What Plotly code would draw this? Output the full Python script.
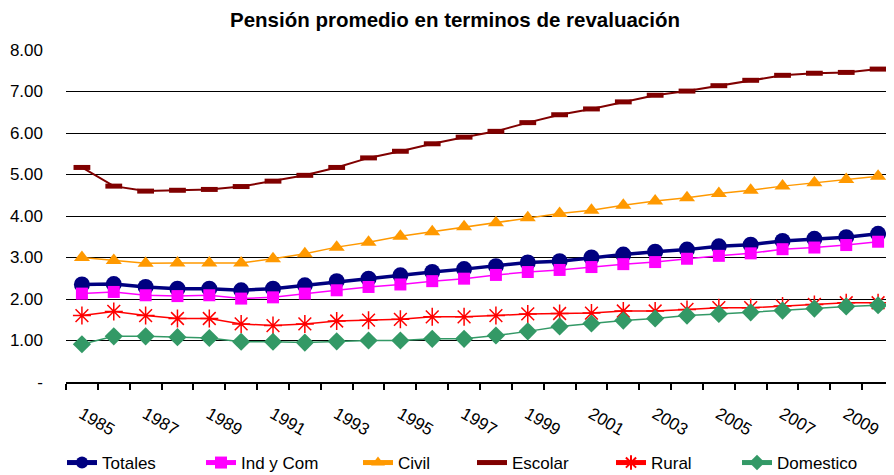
import plotly.graph_objects as go

# Datos (1985-2010)
years = list(range(1985, 2011))

totales = [2.35, 2.36, 2.29, 2.25, 2.25, 2.21, 2.25, 2.33, 2.43, 2.49, 2.57, 2.65, 2.72,
           2.79, 2.88, 2.91, 3.00, 3.07, 3.14, 3.19, 3.27, 3.31, 3.40, 3.45, 3.49, 3.57]
ind_com = [2.13, 2.17, 2.09, 2.07, 2.09, 2.01, 2.04, 2.13, 2.21, 2.29, 2.35, 2.43, 2.49,
           2.58, 2.65, 2.70, 2.77, 2.84, 2.89, 2.97, 3.04, 3.10, 3.20, 3.24, 3.30, 3.38]
civil = [3.00, 2.93, 2.86, 2.87, 2.87, 2.87, 2.97, 3.09, 3.25, 3.37, 3.51, 3.62, 3.74,
         3.84, 3.96, 4.06, 4.14, 4.26, 4.36, 4.44, 4.54, 4.62, 4.72, 4.80, 4.88, 4.96]
escolar = [5.17, 4.72, 4.60, 4.62, 4.64, 4.71, 4.84, 4.98, 5.17, 5.40, 5.56, 5.74, 5.90,
           6.04, 6.25, 6.44, 6.58, 6.75, 6.91, 7.01, 7.14, 7.27, 7.39, 7.44, 7.46, 7.54]
rural = [1.60, 1.70, 1.60, 1.53, 1.53, 1.40, 1.36, 1.40, 1.47, 1.49, 1.51, 1.57, 1.57,
         1.60, 1.64, 1.65, 1.66, 1.71, 1.71, 1.75, 1.79, 1.79, 1.83, 1.87, 1.91, 1.91]
domestico = [0.91, 1.10, 1.10, 1.08, 1.06, 0.97, 0.97, 0.95, 0.98, 1.00, 1.00, 1.04, 1.04,
             1.12, 1.22, 1.34, 1.41, 1.48, 1.53, 1.60, 1.64, 1.68, 1.72, 1.77, 1.82, 1.85]

x_tickvals = list(range(1985, 2010, 2))
x_ticktext = [str(y) for y in x_tickvals]
y_tickvals = [0, 1, 2, 3, 4, 5, 6, 7, 8]
y_ticktext = ["-", "1.00", "2.00", "3.00", "4.00", "5.00", "6.00", "7.00", "8.00"]

FONT = "Liberation Sans, Arial, sans-serif"

# the page body has an 8px margin, so the figure is drawn 8px in from the corner
W, H = 886, 467

series = [
    ("Totales", totales, dict(color="#000080", width=3.5), dict(symbol="circle", size=16, color="#000080")),
    ("Ind y Com", ind_com, dict(color="#FF00FF", width=1.5), dict(symbol="square", size=12, color="#FF00FF")),
    ("Civil", civil, dict(color="#FF9900", width=1.5), dict(symbol="triangle-up", size=14, color="#FF9900")),
    ("Escolar", escolar, dict(color="#800000", width=2),
     dict(symbol="line-ew", size=12, color="#800000", line=dict(color="#800000", width=5))),
    ("Rural", rural, dict(color="#FF0000", width=1.5),
     dict(symbol="asterisk-open", size=15, color="#FF0000", line=dict(color="#FF0000", width=1.5))),
    ("Domestico", domestico, dict(color="#339966", width=1.5), dict(symbol="diamond", size=14, color="#339966")),
]

# one legend box per entry, placed like the original's spaced-out legend row
legend_x = [54, 193, 350, 464, 603, 729]

fig = go.Figure()
legends = {}
for i, (name, vals, line, marker) in enumerate(series):
    key = "legend" if i == 0 else f"legend{i + 1}"
    fig.add_trace(go.Scatter(x=years, y=vals, name=name, mode="lines+markers",
                             line=line, marker=marker, legend=key))
    legends[key] = dict(orientation="h", xref="container", yref="container",
                        x=legend_x[i] / W, xanchor="left",
                        y=1 - 455 / H, yanchor="middle",
                        font=dict(family=FONT, size=17), itemsizing="constant",
                        bgcolor="rgba(0,0,0,0)")

fig.update_layout(
    width=W, height=H,
    margin=dict(l=58, r=0, t=42, b=93, autoexpand=False),
    paper_bgcolor="white", plot_bgcolor="white",
    font=dict(family=FONT, size=17, color="black"),
    title=dict(text="<b>Pensión promedio en terminos de revaluación</b>",
               x=447 / W, xref="container", xanchor="center",
               y=1 - 12 / H, yref="container", yanchor="middle",
               font=dict(family=FONT, size=20.5, color="black")),
    showlegend=True,
    **legends,
)

fig.update_xaxes(
    range=[1984.5, 2010.5], automargin=False,
    tickmode="array", tickvals=x_tickvals, ticktext=x_ticktext,
    tickangle=30, ticks="", ticklabelstandoff=14,
    tickfont=dict(family=FONT, size=17),
    showgrid=False, zeroline=False,
    showline=True, linecolor="black", linewidth=1.5,
    minor=dict(ticks="outside", ticklen=6, tickcolor="black", tickwidth=1.5,
               tick0=1984.5, dtick=1, showgrid=False),
)
fig.update_yaxes(
    range=[0, 8], automargin=False,
    tickmode="array", tickvals=y_tickvals, ticktext=y_ticktext,
    tickfont=dict(family=FONT, size=17), ticklabelstandoff=22,
    showgrid=True, gridcolor="black", gridwidth=1.3,
    zeroline=False, showline=False, ticks="",
)

fig.write_html("out.html")
